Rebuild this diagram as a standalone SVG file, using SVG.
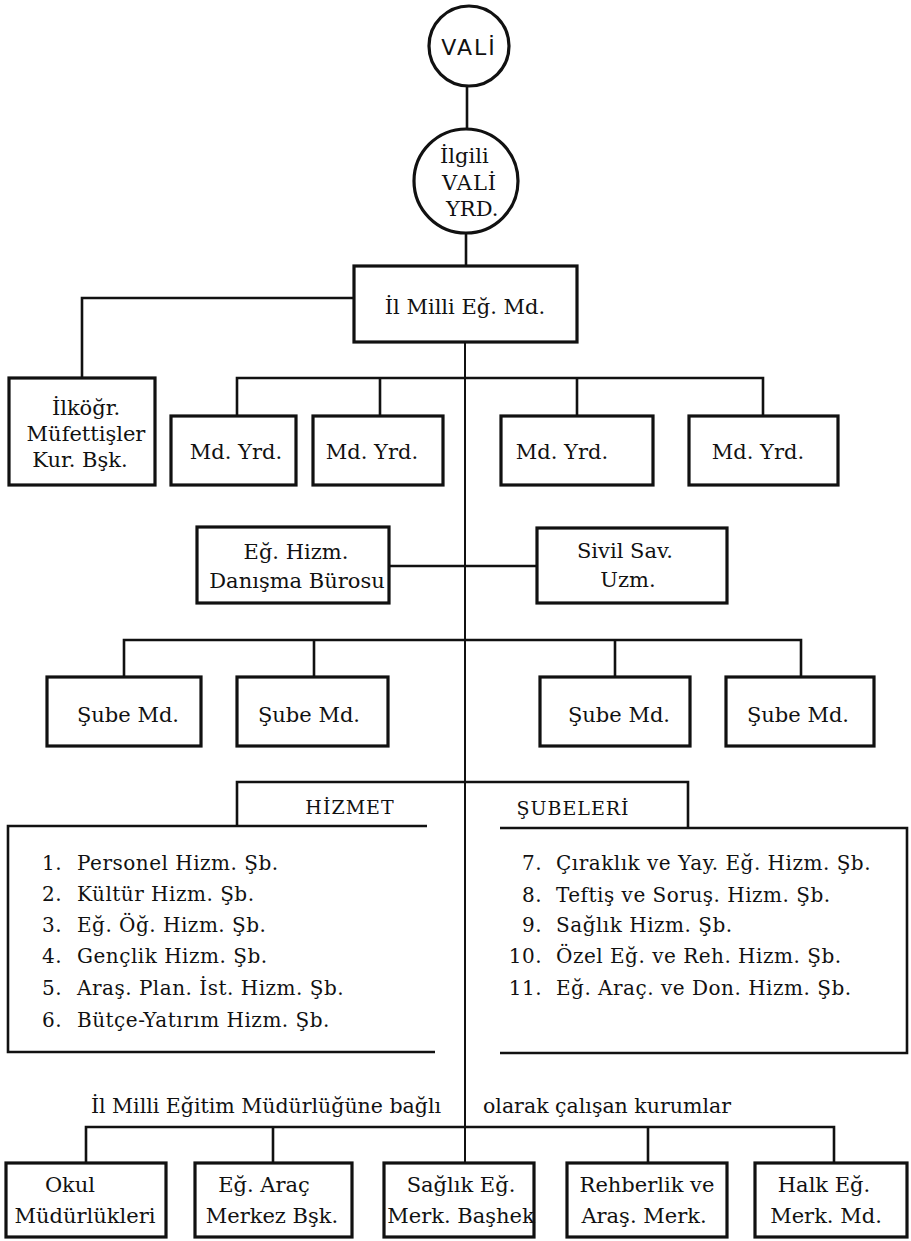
<svg xmlns="http://www.w3.org/2000/svg" width="911" height="1241" viewBox="0 0 911 1241">
<style>
.box{fill:#fff;stroke:#111;stroke-width:3.2}
.ln{fill:none;stroke:#111;stroke-width:2.6}
.cl{fill:none;stroke:#111;stroke-width:2}
.t{font-family:"DejaVu Serif","Liberation Serif",serif;font-size:21px;fill:#111;text-anchor:middle}
.s{text-anchor:start}
.e{text-anchor:end}
.sans{font-family:"DejaVu Sans","Liberation Sans",sans-serif;font-size:22px;letter-spacing:2px}
.cap{font-size:19px;letter-spacing:1px}
.li{font-size:20px;letter-spacing:0.5px}
.cp{font-size:20.5px}
</style>
<rect width="911" height="1241" fill="#fff"/>
<g id="connectors">
<path class="ln" d="M467,87 V129"/>
<path class="ln" d="M466,233 V266"/>
<path class="cl" d="M465,342 V1163"/>
<path class="ln" d="M354,298 H82 V378"/>
<path class="ln" d="M237,416 V378 H763 V416 M380,378 V416 M577,378 V416"/>
<path class="ln" d="M389,566 H537"/>
<path class="ln" d="M124,677 V640 H801 V677 M314,640 V677 M615,640 V677"/>
<path class="ln" d="M86,1163 V1127 H834 V1163 M273,1127 V1163 M648,1127 V1163"/>
</g>
<g id="vali">
<circle class="box" cx="469" cy="46" r="40"/>
<text class="t sans" x="469" y="55">VALİ</text>
</g>
<g id="vali-yrd">
<circle class="box" cx="466" cy="181" r="52"/>
<text class="t s" x="440" y="163">İlgili</text>
<text class="t s" x="442" y="190" style="letter-spacing:1px">VALİ</text>
<text class="t s" x="446" y="216">YRD.</text>
</g>
<g id="il-milli">
<rect class="box" x="354" y="266" width="223" height="76"/>
<text class="t" x="465" y="314">İl Milli Eğ. Md.</text>
</g>
<g id="ilkogr">
<rect class="box" x="9" y="378" width="146" height="107"/>
<text class="t" x="86" y="415">İlköğr.</text>
<text class="t" x="86" y="441">Müfettişler</text>
<text class="t" x="80" y="467">Kur. Bşk.</text>
</g>
<g id="md-yrd-1"><rect class="box" x="171" y="416" width="125" height="69"/><text class="t" x="236" y="459">Md. Yrd.</text></g>
<g id="md-yrd-2"><rect class="box" x="313" y="416" width="130" height="69"/><text class="t" x="372" y="459">Md. Yrd.</text></g>
<g id="md-yrd-3"><rect class="box" x="501" y="416" width="152" height="69"/><text class="t" x="562" y="459">Md. Yrd.</text></g>
<g id="md-yrd-4"><rect class="box" x="689" y="416" width="149" height="69"/><text class="t" x="758" y="459">Md. Yrd.</text></g>
<g id="eg-hizm">
<rect class="box" x="197" y="527" width="192" height="76"/>
<text class="t" x="296" y="559">Eğ. Hizm.</text>
<text class="t" x="297" y="588">Danışma Bürosu</text>
</g>
<g id="sivil">
<rect class="box" x="537" y="528" width="190" height="75"/>
<text class="t" x="625" y="558">Sivil Sav.</text>
<text class="t" x="628" y="587">Uzm.</text>
</g>
<g id="sube-1"><rect class="box" x="47" y="677" width="154" height="69"/><text class="t" x="128" y="722">Şube Md.</text></g>
<g id="sube-2"><rect class="box" x="237" y="677" width="151" height="69"/><text class="t" x="309" y="722">Şube Md.</text></g>
<g id="sube-3"><rect class="box" x="540" y="677" width="150" height="69"/><text class="t" x="619" y="722">Şube Md.</text></g>
<g id="sube-4"><rect class="box" x="726" y="677" width="148" height="69"/><text class="t" x="798" y="722">Şube Md.</text></g>
<g id="hizmet-subeleri">
<path class="ln" d="M237,826 V782 H688 V828"/>
<path class="ln" d="M427,826 H8 V1052 H435"/>
<path class="ln" d="M500,828 H907 V1053 H500"/>
<text class="t cap" x="350" y="814">HİZMET</text>
<text class="t cap" x="573" y="815">ŞUBELERİ</text>
<g>
<text class="t li e" x="62" y="870">1.</text><text class="t li s" x="77" y="870">Personel Hizm. Şb.</text>
<text class="t li e" x="62" y="901">2.</text><text class="t li s" x="77" y="901">Kültür Hizm. Şb.</text>
<text class="t li e" x="62" y="932">3.</text><text class="t li s" x="77" y="932">Eğ. Öğ. Hizm. Şb.</text>
<text class="t li e" x="62" y="963">4.</text><text class="t li s" x="77" y="963">Gençlik Hizm. Şb.</text>
<text class="t li e" x="62" y="995">5.</text><text class="t li s" x="77" y="995">Araş. Plan. İst. Hizm. Şb.</text>
<text class="t li e" x="62" y="1027">6.</text><text class="t li s" x="77" y="1027">Bütçe-Yatırım Hizm. Şb.</text>
<text class="t li e" x="542" y="870">7.</text><text class="t li s" x="556" y="870">Çıraklık ve Yay. Eğ. Hizm. Şb.</text>
<text class="t li e" x="542" y="902">8.</text><text class="t li s" x="556" y="902">Teftiş ve Soruş. Hizm. Şb.</text>
<text class="t li e" x="542" y="932">9.</text><text class="t li s" x="556" y="932">Sağlık Hizm. Şb.</text>
<text class="t li e" x="542" y="963">10.</text><text class="t li s" x="556" y="963">Özel Eğ. ve Reh. Hizm. Şb.</text>
<text class="t li e" x="542" y="995">11.</text><text class="t li s" x="556" y="995">Eğ. Araç. ve Don. Hizm. Şb.</text>
</g>
</g>
<text class="t cp" x="266" y="1113">İl Milli Eğitim Müdürlüğüne bağlı</text>
<text class="t cp" x="607" y="1113">olarak çalışan kurumlar</text>
<g id="okul"><rect class="box" x="6" y="1163" width="160" height="74"/><text class="t" x="70" y="1192">Okul</text><text class="t" x="85" y="1223">Müdürlükleri</text></g>
<g id="eg-arac"><rect class="box" x="195" y="1163" width="157" height="74"/><text class="t" x="264" y="1192">Eğ. Araç</text><text class="t" x="272" y="1223">Merkez Bşk.</text></g>
<g id="saglik"><rect class="box" x="384" y="1163" width="150" height="74"/><text class="t" x="461" y="1192">Sağlık Eğ.</text><text class="t" x="461" y="1223">Merk. Başhek</text></g>
<g id="rehberlik"><rect class="box" x="567" y="1163" width="160" height="74"/><text class="t" x="647" y="1192">Rehberlik ve</text><text class="t" x="644" y="1223">Araş. Merk.</text></g>
<g id="halk"><rect class="box" x="755" y="1163" width="152" height="74"/><text class="t" x="824" y="1192">Halk Eğ.</text><text class="t" x="826" y="1223">Merk. Md.</text></g>
</svg>
